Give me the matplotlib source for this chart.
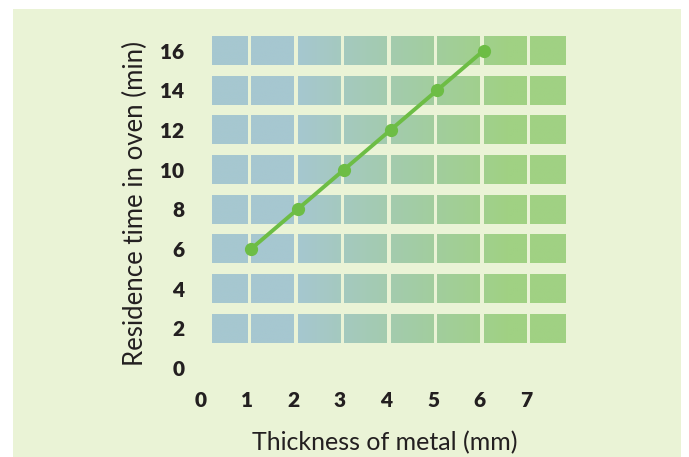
import numpy as np
import matplotlib
matplotlib.use("Agg")
import matplotlib.pyplot as plt
from matplotlib.colors import LinearSegmentedColormap
from matplotlib.patches import Rectangle
from matplotlib.transforms import ScaledTranslation

plt.rcParams["font.family"] = ["Lato", "DejaVu Sans"]

# Data
thickness = [1, 2, 3, 4, 5, 6]
residence = [6, 8, 10, 12, 14, 16]
x_ticks = [0, 1, 2, 3, 4, 5, 6, 7]
y_ticks = [0, 2, 4, 6, 8, 10, 12, 14, 16]
tile_rows = [2, 4, 6, 8, 10, 12, 14, 16]
tile_cols = [0, 1, 2, 3, 4, 5, 6, 7]

# Colours
panel_color = "#eaf3d6"
tile_cmap = LinearSegmentedColormap.from_list(
    "tiles", ["#a6c7d0", "#a6c7d0", "#a0d183", "#a0d183"],
    N=256
)
line_color = "#6dbd45"
text_color = "#231f20"

fig = plt.figure(figsize=(6.89, 4.57), dpi=100)
fig.patch.set_facecolor("white")

# light green panel behind the chart
fig.patches.append(Rectangle(
    (13 / 689, 0), 668 / 689, 448 / 457,
    transform=fig.transFigure, facecolor=panel_color,
    edgecolor="none", zorder=-10
))

ax = fig.add_axes([202.2 / 689, 1 - 385.8 / 457, 383.6 / 689, 360.9 / 457])
ax.set_facecolor("none")

# -------------------------
# Tiles with left-right gradient
# -------------------------
x_start, x_end = 1.9, 6.6
for col in tile_cols:
    left = 0.16 if col == 0 else col
    right = min(col + 0.92, 7.77)
    xs = np.linspace(left, right, 40)
    vals = np.clip((xs - x_start) / (x_end - x_start), 0, 1)
    vals = 0.33 + 0.34 * vals
    for row in tile_rows:
        ax.imshow(
            vals[np.newaxis, :],
            cmap=tile_cmap, vmin=0, vmax=1,
            extent=(left, right, row - 0.72, row + 0.72),
            aspect="auto", interpolation="bilinear", zorder=1
        )

# -------------------------
# Line
# -------------------------
ax.plot(
    thickness, residence,
    color=line_color, linewidth=2.8,
    marker="o", markersize=8.5,
    zorder=3
)

ax.set_xlim(-0.05, 8.2)
ax.set_ylim(-0.9, 17.3)

for side in ["top", "right", "bottom", "left"]:
    ax.spines[side].set_visible(False)

ax.set_xticks(x_ticks)
ax.set_yticks(y_ticks)
ax.set_xticklabels([str(v) for v in x_ticks])
ax.set_yticklabels([str(v) for v in y_ticks])
ax.tick_params(axis="both", length=0, labelsize=15, labelcolor=text_color)
ax.tick_params(axis="x", pad=4)
ax.tick_params(axis="y", pad=13)
for lab in ax.get_xticklabels() + ax.get_yticklabels():
    lab.set_fontweight("heavy")
for lab in ax.get_xticklabels():
    lab.set_transform(lab.get_transform() + ScaledTranslation(-4 / 100, 0, fig.dpi_scale_trans))

ax.set_xlabel("Thickness of metal (mm)", fontsize=18, color=text_color)
ax.set_ylabel("Residence time in oven (min)", fontsize=18.5, color=text_color)
ax.xaxis.label.set_va("center")
ax.yaxis.label.set_va("center")
ax.xaxis.set_label_coords(0.475, -0.158)
ax.yaxis.set_label_coords(-0.175, 0.505)

plt.savefig("out.png", dpi=100, facecolor=fig.get_facecolor())
